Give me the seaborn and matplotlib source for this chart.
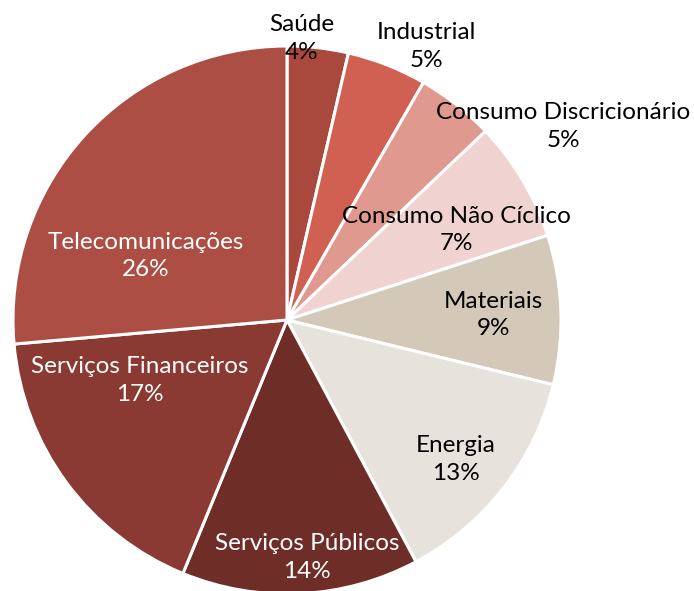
import matplotlib
matplotlib.use("Agg")
import matplotlib.pyplot as plt
import numpy as np
import seaborn as sns

# Participação por setor (sentido horário a partir do topo)
sectors = [
    "Saúde",
    "Industrial",
    "Consumo Discricionário",
    "Consumo Não Cíclico",
    "Materiais",
    "Energia",
    "Serviços Públicos",
    "Serviços Financeiros",
    "Telecomunicações",
]
shares = [3.6, 4.7, 4.6, 7.1, 8.8, 13.4, 14.0, 17.4, 26.4]

colors = [
    "#A9483D", "#D06152", "#E0998F", "#F0D2D0", "#D4C8B8",
    "#E8E2DC", "#6E2E27", "#8A3A32", "#AC4E43",
]
text_colors = ["black"] * 6 + ["white"] * 3

# posição dos rótulos: ângulo (graus, horário a partir do topo) e raio relativo
label_angle = [3, 27, 55, 62, 88.6, 129.5, 175.2, 247.7, 294.4]
label_radius = [1.03, 1.12, 1.23, 0.70, 0.755, 0.80, 0.87, 0.58, 0.565]

sns.set_style("white")
plt.rcParams["font.family"] = ["Lato", "DejaVu Sans"]

W, H = 694, 591
R = 274
cx, cy = 287, 320
fig = plt.figure(figsize=(W / 100, H / 100), dpi=100)
ax = fig.add_axes([(cx - R) / W, (H - cy - R) / H, 2 * R / W, 2 * R / H])

wedges, _ = ax.pie(
    shares,
    colors=colors,
    startangle=90,
    counterclock=False,
    radius=1,
    wedgeprops=dict(edgecolor="white", linewidth=2.2),
)
ax.set_xlim(-1, 1)
ax.set_ylim(-1, 1)
ax.axis("off")

for name, share, ang, rad, tc in zip(sectors, shares, label_angle, label_radius, text_colors):
    theta = np.radians(90 - ang)
    ax.text(
        rad * np.cos(theta),
        rad * np.sin(theta),
        f"{name}\n{share:.0f}%",
        ha="center",
        va="center",
        fontsize=17.5,
        color=tc,
        linespacing=1.4,
        clip_on=False,
    )

fig.savefig("out.png", dpi=100)
